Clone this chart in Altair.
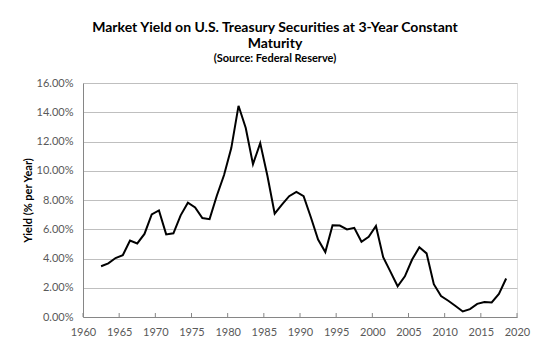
import altair as alt
import pandas as pd

years = list(range(1962, 2019))
yields = [3.47, 3.67, 4.03, 4.22, 5.23, 5.03, 5.68, 7.02, 7.29, 5.65,
          5.72, 6.95, 7.82, 7.49, 6.77, 6.69, 8.29, 9.71, 11.55, 14.44,
          12.92, 10.45, 11.89, 9.64, 7.06, 7.68, 8.26, 8.55, 8.26, 6.82,
          5.30, 4.44, 6.27, 6.25, 5.99, 6.10, 5.14, 5.49, 6.22, 4.09,
          3.10, 2.10, 2.78, 3.93, 4.77, 4.35, 2.24, 1.43, 1.11, 0.75,
          0.38, 0.54, 0.90, 1.02, 1.00, 1.58, 2.63]
x_ticks = [1960, 1965, 1970, 1975, 1980, 1985, 1990, 1995, 2000, 2005, 2010, 2015, 2020]
y_ticks = [0, 2, 4, 6, 8, 10, 12, 14, 16]

df = pd.DataFrame({"year": years, "yield": yields})
ticks_df = pd.DataFrame({"tick": x_ticks})

FONT = "Lato"
x_scale = alt.Scale(domain=[1960, 2020], nice=False, zero=False)
y_scale = alt.Scale(domain=[0, 16], nice=False)

x_axis = alt.Axis(values=x_ticks, format="d", title=None, grid=False,
                  tickSize=0, labelPadding=9, domainColor="#868686",
                  labelOverlap=False, labelFlush=False,
                  labelFont=FONT, labelFontSize=11, labelColor="#595959")

line = alt.Chart(df).transform_calculate(
    xmid="datum.year + 0.5"
).mark_line(color="black", strokeWidth=2).encode(
    x=alt.X("xmid:Q", scale=x_scale, axis=x_axis, title=None),
    y=alt.Y("yield:Q", scale=y_scale,
            axis=alt.Axis(values=y_ticks, labelExpr="format(datum.value, '.2f') + '%'",
                          title="Yield (% per Year)", grid=True, gridColor="#bfbfbf",
                          ticks=False, labelPadding=10, domainColor="#868686",
                          labelOverlap=False, labelFlush=False,
                          labelFont=FONT, labelFontSize=11, labelColor="#595959",
                          titleFont=FONT, titleFontSize=11, titleFontWeight="bold",
                          titleColor="#000000", titleX=-55, titleY=117,
                          titleAlign="center", titleBaseline="middle", titleAngle=270)),
)

tick_marks = alt.Chart(ticks_df).mark_rule(color="#868686", strokeWidth=1).encode(
    x=alt.X("tick:Q", scale=x_scale, axis=x_axis, title=None),
    y=alt.value(230),
    y2=alt.value(234),
)

chart = alt.layer(line, tick_marks).properties(
    width=434,
    height=234,
    title=alt.TitleParams(
        text=["Market Yield on U.S. Treasury Securities at 3-Year Constant", "Maturity"],
        subtitle="(Source: Federal Reserve)",
        font=FONT, fontSize=14, fontWeight="bold", color="#000000",
        subtitleFont=FONT, subtitleFontSize=11, subtitleFontWeight="bold",
        subtitleColor="#000000", lineHeight=16, subtitlePadding=2,
        anchor="middle", frame="group", dx=-25, offset=13,
    ),
    autosize=alt.AutoSizeParams(type="none"),
    padding={"left": 83, "top": 83, "right": 32, "bottom": 33},
).configure_view(stroke=None).configure(background="white")

chart.save("out.html", embed_options={"renderer": "svg", "actions": False})
